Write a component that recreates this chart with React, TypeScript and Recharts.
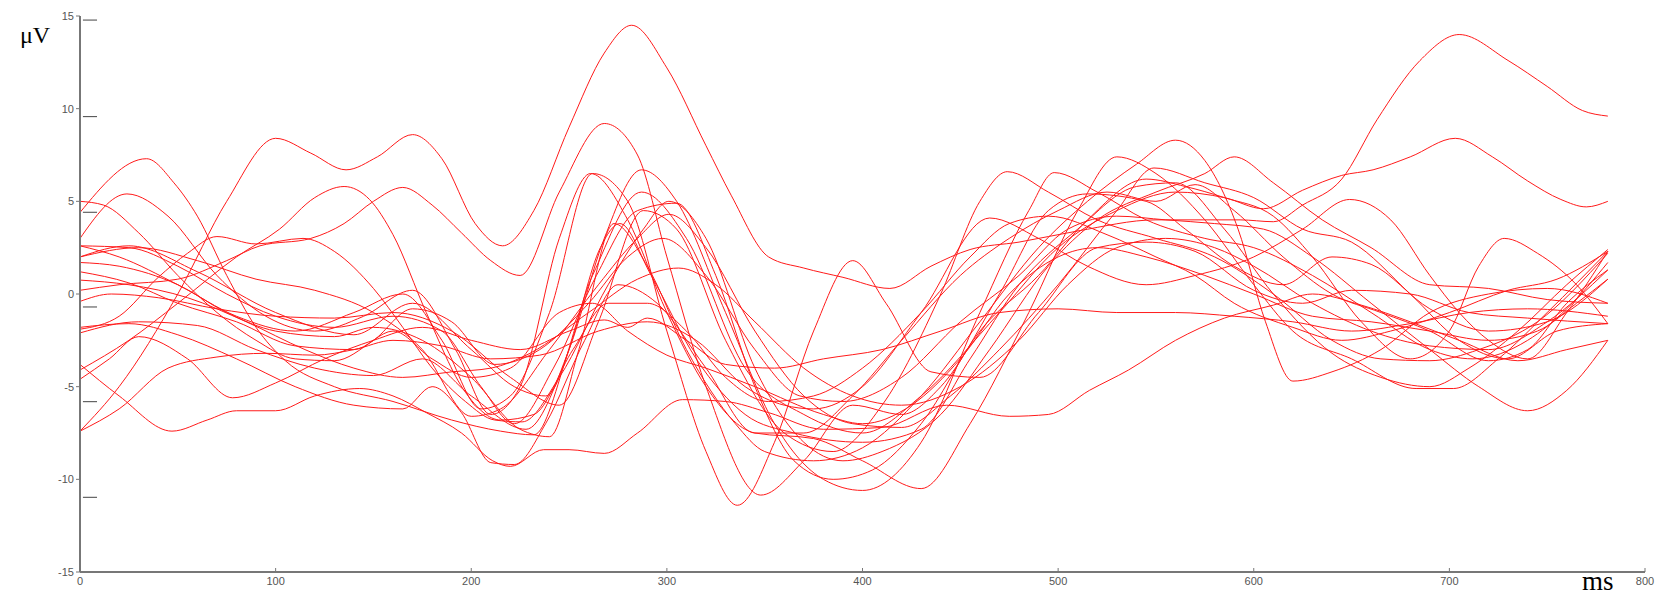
import React from 'react';
import { LineChart, Line, XAxis, YAxis, ReferenceLine } from 'recharts';

// each channel: [ms, µV] points
const chA = [[0,-7.4],[20,-5],[50,0],[75,5],[100,8.4],[118,7.6],[136,6.7],[152,7.4],[170,8.6],[185,7.3],[202,3.8],[216,2.6],[232,4.5],[250,9],[268,13],[282,14.5],[300,12.2],[320,8],[333,5.3],[352,2.0],[370,1.4],[390,0.9],[414,0.3],[435,1.5],[455,2.4],[480,2.8],[510,3.4],[550,4.0],[593,4.0],[610,3.9],[625,4.8],[645,6.2],[663,9.4],[685,12.6],[705,14.0],[730,12.6],[750,11.2],[768,9.9],[781,9.6]];
const chB = [[0,4.4],[34,7.3],[48,6.0],[60,4.2],[75,1.0],[90,-1.8],[105,-3.6],[130,-5.0],[160,-5.8],[190,-6.8],[215,-7.4],[232,-7.6],[250,-3],[266,2.5],[276,3.8],[292,1.0],[315,-3.5],[340,-6.5],[365,-7.5],[400,-8],[430,-7.3],[455,-3.5],[480,0.5],[510,3.5],[540,5.8],[560,6.0],[585,3.5],[610,0.0],[640,-3.2],[665,-4.5],[690,-5.0],[710,-4.0],[735,-2],[760,0.5],[781,2.4]];
const chE = [[0,2.0],[25,2.6],[60,1.2],[100,-1.0],[140,-2.2],[170,-0.5],[200,-3.0],[222,-5],[238,-5.5],[262,1],[287,5.5],[310,3],[340,-4],[370,-6.5],[400,-7.5],[430,-5.5],[470,-1],[500,2.5],[530,4.5],[560,5.5],[585,5.2],[605,4.6],[625,5.6],[645,6.4],[661,6.7],[680,7.4],[703,8.4],[722,7.4],[740,6.1],[757,5.1],[770,4.7],[781,5.0]];
const ch02 = [[0,2.6],[20,2.0],[50,0.5],[80,-1.2],[110,-2.0],[140,-1.0],[165,0.0],[185,-2.5],[205,-6.2],[220,-5.5],[240,-1],[262,6.5],[280,5.0],[300,-2],[320,-8.5],[336,-11.4],[355,-8],[375,-2],[395,1.8],[412,-0.5],[435,-4.2],[460,-4.5],[490,-1],[520,2.5],[545,2.8],[570,2.3],[600,0.2],[625,-0.5],[650,0.2],[680,0],[710,-1.0],[740,-1.3],[781,-1.6]];
const ch03 = [[0,1.2],[25,0.6],[50,-0.5],[80,-1.5],[110,-2.8],[140,-3.0],[160,-2.0],[180,-3.5],[200,-4.5],[220,-4.0],[245,-1.0],[262,-0.5],[280,-2.0],[300,-3.3],[320,-4.0],[345,-5.0],[380,-6.5],[400,-7.0],[425,-6.0],[450,-3.5],[475,0.0],[500,2.0],[520,2.5],[545,2.0],[575,1.0],[600,0.0],[630,-1.2],[660,-1.5],[690,-2.0],[720,-2.5],[745,-2.0],[765,-0.5],[781,0.8]];
const ch04 = [[0,-2.1],[30,-1.5],[60,-1.7],[90,-3.0],[120,-4.0],[150,-4.4],[175,-3.5],[200,-5.5],[228,-7.3],[250,-3],[268,3],[287,6.7],[305,5],[330,-1],[355,-7],[380,-10],[400,-10.6],[430,-8],[460,-1],[485,4.5],[498,6.55],[520,5.5],[545,4.0],[575,3.0],[600,2.5],[630,1.0],[660,-1],[690,-3.0],[712,-3.5],[740,-2.5],[760,-0.8],[781,1.7]];
const ch05 = [[0,3.0],[24,5.4],[45,4.2],[70,1.0],[95,-1.2],[120,-2.0],[145,-1.2],[170,0.2],[192,-3],[210,-6.5],[225,-5],[245,3],[261,6.5],[280,4],[300,-1],[320,-5],[345,-7.5],[375,-7.8],[400,-9],[430,-10.5],[455,-7],[485,-1],[510,4.5],[530,7.4],[550,6.5],[575,4.0],[600,0.5],[620,-2.0],[650,-3.5],[683,-5.1],[702,-5.1],[725,-3.5],[750,-1.0],[781,2.3]];
const ch06 = [[0,-0.4],[16,0.0],[40,-0.2],[70,-0.8],[100,-1.2],[130,-1.3],[160,-1.0],[190,-2.0],[220,-4.5],[245,-6.0],[265,-1.5],[288,4.5],[305,3.5],[330,-2.5],[360,-7.5],[385,-8.5],[410,-6],[440,0],[460,5],[474,6.6],[495,5.5],[520,4.0],[550,3.0],[580,2.0],[610,0.0],[640,-2.5],[665,-3.5],[690,-3.6],[715,-3.0],[745,-1.5],[781,2.2]];
const ch07 = [[0,-1.9],[20,-1.2],[40,0.9],[55,2.2],[70,3.1],[90,2.7],[114,3.0],[130,2.3],[150,0.3],[165,-1.8],[180,-4.0],[197,-5.8],[212,-6.8],[226,-6.9],[245,-4.5],[270,0.5],[288,3.5],[301,5.0],[320,3],[345,-4],[370,-8],[390,-9],[410,-8.5],[440,-6.5],[465,-3],[495,1.5],[520,4],[550,5.5],[575,6.5],[590,7.4],[610,6.0],[635,4.0],[660,2.5],[690,0.5],[720,0.3],[750,-0.3],[781,-0.5]];
const ch08 = [[0,2.0],[30,2.5],[60,1.8],[90,0.8],[120,0.2],[150,-1.0],[175,-3.0],[200,-6.6],[215,-6.2],[240,-3],[265,0.5],[285,3.0],[301,4.3],[320,2.5],[345,-2],[370,-5.5],[395,-7.0],[420,-7.2],[445,-5.5],[470,-3],[500,0.5],[530,4.5],[549,6.8],[575,6.0],[600,5.2],[625,3.5],[650,2.8],[680,0.0],[705,-2.5],[730,-3.5],[755,-2.0],[781,-1.6]];
const ch09 = [[0,1.7],[20,1.5],[50,0.5],[75,-1.0],[100,-2.0],[130,-2.3],[150,-1.8],[175,-2.5],[200,-4.5],[225,-7.3],[240,-7.7],[255,-3],[273,3.8],[290,1.5],[310,-3],[335,-7],[350,-8.5],[375,-9],[400,-8.3],[430,-5.5],[460,-1.5],[490,2.5],[515,5.0],[540,7.0],[560,8.3],[575,7.2],[592,3.5],[606,-1.5],[620,-4.7],[640,-4.2],[665,-3.0],[690,-1.0],[720,0.0],[750,0.3],[781,-0.5]];
const ch10 = [[0,0.75],[25,0.5],[55,-0.2],[85,-1.5],[115,-3.0],[140,-4.0],[165,-4.5],[190,-4.2],[210,-4.0],[230,-3.2],[260,-1.0],[285,0.8],[306,1.4],[325,0.5],[345,-1.5],[370,-4.0],[395,-5.5],[420,-6.0],[450,-5.0],[480,-2.5],[505,0.5],[530,2.5],[555,3.0],[580,2.5],[600,1.5],[630,-0.5],[660,-2.0],[690,-2.8],[720,-3.0],[750,-1.5],[781,1.3]];
const ch11 = [[0,-4.6],[15,-3.5],[30,-2.3],[55,-3.5],[78,-5.6],[100,-4.8],[125,-3.5],[150,-2.5],[175,-1.8],[200,-2.5],[225,-3.0],[250,-2.0],[268,-1.4],[280,-1.8],[290,-1.3],[310,-2.5],[330,-3.8],[355,-4.0],[380,-3.5],[410,-3.0],[440,-2.0],[470,-1.0],[500,-0.8],[530,-1.0],[560,-1.0],[590,-1.2],[620,-1.5],[650,-2.0],[680,-1.6],[710,-1.0],[740,-0.8],[781,-1.2]];
const ch12 = [[0,-3.8],[20,-5.5],[47,-7.4],[65,-6.8],[80,-6.3],[100,-6.3],[120,-5.5],[143,-5.1],[160,-5.5],[177,-6.4],[195,-7.5],[211,-9.0],[220,-9.3],[237,-8.4],[250,-8.4],[268,-8.6],[285,-7.5],[308,-5.7],[330,-5.8],[352,-6.4],[380,-7.3],[410,-7.2],[443,-6.0],[475,-6.6],[495,-6.5],[516,-5.2],[536,-4.1],[560,-2.5],[585,-1.3],[610,-0.6],[630,0.0],[655,-0.6],[680,-1.5],[705,-2.5],[735,-3.6],[760,-3.0],[781,-2.5]];
const ch13 = [[0,-7.4],[20,-6.2],[45,-4.0],[70,-3.4],[95,-3.2],[120,-3.3],[140,-3.0],[160,-2.5],[185,-2.8],[210,-3.5],[235,-3.3],[265,-2.0],[290,-1.5],[315,-2.5],[340,-5],[360,-6.0],[375,-6.2],[400,-5],[430,-1.0],[465,4.1],[490,3.0],[515,1.5],[545,0.5],[570,1.0],[600,2.0],[625,3.5],[649,5.1],[670,4.0],[690,1.0],[705,-1.0],[720,-2.5],[740,-3.5],[760,-1.0],[781,2.3]];
const ch14 = [[0,-1.8],[25,-1.6],[50,-2.2],[80,-3.5],[110,-5.0],[140,-6.0],[165,-6.2],[180,-5.0],[195,-6.4],[210,-9.1],[222,-9.2],[238,-7.0],[258,-2.5],[275,0.5],[295,-0.5],[320,-4.0],[345,-7.5],[370,-7.5],[395,-5.5],[420,-2.5],[450,1.0],[475,3.0],[500,4.5],[525,5.5],[550,5.0],[570,5.9],[590,4.5],[615,2.0],[640,0.0],[665,-1.0],[690,-2.0],[720,-3.6],[740,-3.0],[760,-0.5],[781,1.3]];
const ch15 = [[0,5.0],[12,4.8],[30,3.3],[50,1.0],[70,-1.0],[90,-2.5],[110,-3.5],[130,-3.6],[150,-2.5],[170,-0.8],[190,-1.5],[212,-3.8],[235,-3.0],[260,-0.5],[280,2.0],[298,3.0],[320,1.0],[345,-3.0],[368,-5.5],[390,-5.8],[420,-4.5],[450,-1.5],[480,1.0],[505,3.5],[530,4.2],[555,4.0],[580,3.8],[605,3.5],[630,2.0],[660,-0.5],[690,-3.0],[715,-5.0],[740,-6.3],[760,-5.2],[781,-2.5]];
const ch16 = [[0,2.6],[25,2.5],[50,1.5],[75,0.0],[100,-1.2],[130,-1.8],[160,-1.2],[185,-2.0],[205,-5.0],[222,-7.0],[242,-4],[264,1.0],[285,4.5],[305,4.9],[325,1.0],[345,-5],[365,-9],[385,-10],[405,-9.5],[430,-7.0],[460,-2.0],[490,1.0],[515,4.0],[545,6.2],[565,5.8],[585,5.2],[610,4.2],[630,2.0],[655,-1.5],[680,-3.5],[700,-2.0],[715,1.5],[728,3.0],[745,2.2],[765,0.5],[781,-1.6]];
const ch17 = [[0,-4.1],[25,-2.5],[50,-0.5],[80,2.0],[102,3.5],[120,5.2],[135,5.8],[148,5.1],[160,3.2],[177,-1.0],[197,-5.3],[215,-6.8],[232,-6.5],[252,-3.0],[270,-0.5],[290,-0.5],[310,-2.0],[330,-4.5],[352,-5.8],[375,-5.5],[400,-4.0],[430,-1.0],[455,2.0],[475,3.8],[495,4.2],[525,3.2],[550,2.0],[570,1.0],[590,-0.5],[620,-1.8],[645,-2.5],[670,-2.0],[700,-1.0],[730,0.2],[755,0.8],[781,2.3]];
const ch18 = [[0,0.2],[20,0.5],[50,0.8],[75,1.8],[92,2.6],[118,3.0],[135,3.8],[150,5.0],[165,5.75],[180,4.8],[195,3.3],[210,1.8],[225,1.0],[245,5.5],[268,9.2],[285,7.5],[300,2],[320,-5],[348,-10.85],[370,-9],[395,-6],[420,-6.5],[440,-5],[470,0],[495,4.5],[515,5.4],[545,5.0],[565,3.5],[590,1.5],[615,0.5],[640,2.0],[660,1.6],[690,-0.8],[720,-2.0],[750,-1.5],[781,0.8]];

const channels = [chA, chB, chE, ch02, ch03, ch04, ch05, ch06, ch07, ch08, ch09, ch10, ch11, ch12, ch13, ch14, ch15, ch16, ch17, ch18];

const xTicks = [0, 100, 200, 300, 400, 500, 600, 700, 800];
const yTicks = [-15, -10, -5, 0, 5, 10, 15];
// short offset marks beside the vertical axis
const sideMarks = [14.78, 9.57, 4.41, -0.7, -5.81, -10.97];

const toPts = (arr: number[][]) => arr.map(([t, v]) => ({ t, v }));

const XTick = (props: any) => {
  const { x, y, payload } = props;
  return (
    <g>
      <line x1={x} y1={y} x2={x} y2={y - 4} stroke="#777" strokeWidth={1} />
      <text x={x} y={y + 13} textAnchor="middle" fontSize={11} fill="#555" fontFamily="Liberation Sans, Arial, sans-serif">
        {payload.value}
      </text>
    </g>
  );
};

export default function App() {
  return (
    <div style={{ position: 'absolute', left: 0, top: 0, width: 1657, height: 597, background: '#fff' }}>
      <LineChart width={1657} height={597} margin={{ top: 16, right: 12, bottom: 0, left: 0 }}>
        <XAxis
          dataKey="t"
          type="number"
          domain={[0, 800]}
          ticks={xTicks}
          allowDataOverflow
          height={25}
          axisLine={{ stroke: '#777', strokeWidth: 2 }}
          tickLine={false}
          tickSize={0}
          tickMargin={0}
          tick={<XTick />}
        />
        <YAxis
          type="number"
          domain={[-15, 15]}
          ticks={yTicks}
          allowDataOverflow
          width={80}
          axisLine={{ stroke: '#777', strokeWidth: 2 }}
          tickLine={{ stroke: '#777' }}
          tickSize={4}
          tickMargin={2}
          tick={{ fontSize: 11, fill: '#555', fontFamily: 'Liberation Sans, Arial, sans-serif' }}
        />
        {sideMarks.map((m) => (
          <ReferenceLine
            key={m}
            segment={[{ x: 1.5, y: m }, { x: 8.7, y: m }]}
            stroke="#444"
            strokeWidth={1}
            ifOverflow="visible"
          />
        ))}
        {channels.map((c, i) => (
          <Line
            key={i}
            data={toPts(c)}
            dataKey="v"
            type="monotone"
            stroke="#ff1a1a"
            strokeWidth={1}
            dot={false}
            isAnimationActive={false}
          />
        ))}
      </LineChart>
      <div style={{ position: 'absolute', left: 20, top: 22, fontFamily: 'Liberation Serif, serif', fontSize: 24 }}>μV</div>
      <div style={{ position: 'absolute', left: 1582, top: 566, fontFamily: 'Liberation Serif, serif', fontSize: 27 }}>ms</div>
    </div>
  );
}
